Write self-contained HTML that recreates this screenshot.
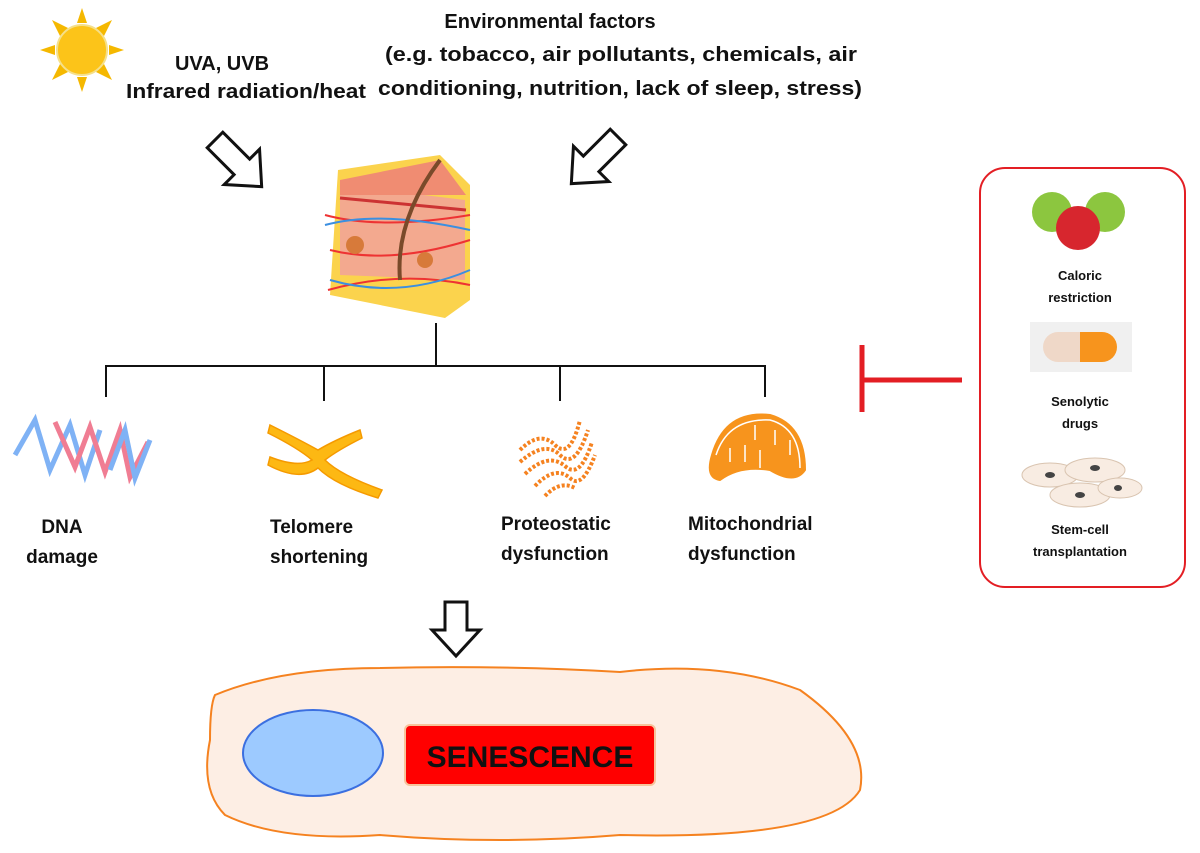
<!DOCTYPE html>
<html><head><style>body{margin:0;background:#fff}svg{display:block}text{font-family:"Liberation Sans",sans-serif;font-weight:bold;fill:#111}</style></head><body>
<svg width="1200" height="853" viewBox="0 0 1200 853" xmlns="http://www.w3.org/2000/svg">
<!-- sun -->
<g transform="translate(82,50)">
<g fill="#f5b800">
<polygon points="0,-42 5,-27 -5,-27"/><polygon points="0,42 5,27 -5,27"/><polygon points="-42,0 -27,5 -27,-5"/><polygon points="42,0 27,5 27,-5"/>
<polygon points="30,-30 22,-14 14,-22"/><polygon points="-30,-30 -22,-14 -14,-22"/><polygon points="30,30 22,14 14,22"/><polygon points="-30,30 -22,14 -14,22"/>
</g>
<circle r="25" fill="#fcc419" stroke="#f5e08a" stroke-width="2"/>
</g>
<text x="222" y="70" font-size="20" text-anchor="middle">UVA, UVB</text>
<text x="246" y="98" font-size="20" text-anchor="middle" textLength="240" lengthAdjust="spacingAndGlyphs">Infrared radiation/heat</text>
<text x="550" y="28" font-size="20" text-anchor="middle">Environmental factors</text>
<text x="621" y="61" font-size="20" text-anchor="middle" textLength="472" lengthAdjust="spacingAndGlyphs">(e.g. tobacco, air pollutants, chemicals, air</text>
<text x="620" y="95" font-size="20" text-anchor="middle" textLength="484" lengthAdjust="spacingAndGlyphs">conditioning, nutrition, lack of sleep, stress)</text>
<!-- arrows -->
<g fill="#fff" stroke="#111" stroke-width="3" stroke-linejoin="miter">
<polygon points="0,-11 38,-11 38,-25 66,0 38,25 38,11 0,11" transform="translate(215,140) rotate(45)"/>
<polygon points="0,-11 38,-11 38,-25 66,0 38,25 38,11 0,11" transform="translate(618,137) rotate(135)"/>
<polygon points="0,-11 28,-11 28,-24 54,0 28,24 28,11 0,11" transform="translate(456,602) rotate(90)"/>
</g>
<!-- skin -->
<g>
<polygon points="338,170 440,155 470,185 470,300 445,318 330,295" fill="#fbd34d"/>
<polygon points="340,185 465,200 465,280 340,275" fill="#f3a98f"/>
<polygon points="340,180 440,160 466,195 340,195" fill="#f08c72"/>
<line x1="340" y1="198" x2="466" y2="210" stroke="#cc3333" stroke-width="3"/>
<path d="M325 215 Q380 230 470 215 M328 290 Q400 270 470 285 M330 250 Q390 265 470 240" stroke="#e33" stroke-width="2" fill="none"/>
<path d="M325 225 Q380 210 470 230 M330 280 Q400 300 470 270" stroke="#3b8fe0" stroke-width="2" fill="none"/>
<path d="M400 280 Q395 220 440 160" stroke="#7a4a2a" stroke-width="4" fill="none"/>
<circle cx="355" cy="245" r="9" fill="#d77a3a"/><circle cx="425" cy="260" r="8" fill="#d77a3a"/>
</g>
<!-- tree -->
<g stroke="#111" stroke-width="2" fill="none">
<line x1="436" y1="323" x2="436" y2="366"/>
<line x1="105" y1="366" x2="766" y2="366"/>
<line x1="106" y1="366" x2="106" y2="397"/><line x1="324" y1="366" x2="324" y2="401"/><line x1="560" y1="366" x2="560" y2="401"/><line x1="765" y1="366" x2="765" y2="397"/>
</g>
<!-- DNA -->
<g fill="none" stroke-width="5">
<path d="M15 455 L35 420 L50 470 L70 425 L85 475 L100 430" stroke="#7fb2f5"/>
<path d="M25 420 L45 465 L60 425 L75 470 L90 428 L100 475 L118 440" stroke="#f07d93" transform="translate(30,2)"/>
<path d="M80 470 L95 430 L105 478 L120 440" stroke="#7fb2f5" transform="translate(30,0)"/>
</g>
<!-- telomere -->
<g fill="#fdb813" stroke="#f59a00" stroke-width="1.5">
<path d="M270 425 Q300 440 318 450 Q335 440 360 430 L362 438 Q338 450 325 460 Q340 475 382 490 L378 498 Q335 485 318 468 Q300 482 268 465 L270 457 Q298 468 312 460 Q298 448 268 433Z"/>
</g>
<!-- proteostatic -->
<g fill="none" stroke="#f58220" stroke-width="4" stroke-dasharray="3 2">
<path d="M520 450 Q540 430 555 445 Q570 460 580 420"/>
<path d="M520 462 Q545 440 560 455 Q575 470 588 430"/>
<path d="M525 474 Q548 452 565 466 Q580 480 592 442"/>
<path d="M535 486 Q555 465 570 478 Q582 490 595 455"/>
<path d="M545 496 Q560 480 575 488"/>
</g>
<!-- mito -->
<path d="M712 455 Q725 410 770 415 Q805 425 805 470 Q795 485 770 470 Q740 465 720 480 Q705 478 712 455Z" fill="#f7941d" stroke="#f7941d" stroke-width="2"/>
<path d="M716 455 Q728 418 770 420 Q800 428 800 468" fill="none" stroke="#fff" stroke-width="1.5"/>
<g stroke="#fff" stroke-width="1.5"><line x1="730" y1="462" x2="730" y2="448"/><line x1="745" y1="462" x2="745" y2="445"/><line x1="760" y1="468" x2="760" y2="450"/><line x1="775" y1="430" x2="775" y2="445"/><line x1="755" y1="425" x2="755" y2="440"/><line x1="790" y1="440" x2="790" y2="455"/></g>
<!-- labels -->
<g font-size="19">
<text x="62" y="533" text-anchor="middle">DNA</text>
<text x="62" y="563" text-anchor="middle">damage</text>
<text x="270" y="533">Telomere</text>
<text x="270" y="563">shortening</text>
<text x="501" y="530">Proteostatic</text>
<text x="501" y="560">dysfunction</text>
<text x="688" y="530">Mitochondrial</text>
<text x="688" y="560">dysfunction</text>
</g>
<!-- inhibitor -->
<g stroke="#e31e24" stroke-width="5"><line x1="862" y1="380" x2="962" y2="380"/><line x1="862" y1="345" x2="862" y2="412"/></g>
<rect x="980" y="168" width="205" height="419" rx="25" fill="#fff" stroke="#e31e24" stroke-width="2"/>
<circle cx="1052" cy="212" r="20" fill="#8cc63f"/><circle cx="1105" cy="212" r="20" fill="#8cc63f"/><circle cx="1078" cy="228" r="22" fill="#d7262e"/>
<g font-size="13" text-anchor="middle"><text x="1080" y="280">Caloric</text><text x="1080" y="302">restriction</text>
<text x="1080" y="406">Senolytic</text><text x="1080" y="428">drugs</text>
<text x="1080" y="534">Stem-cell</text><text x="1080" y="556">transplantation</text></g>
<rect x="1030" y="322" width="102" height="50" fill="#f0f0f0"/>
<path d="M1058 332 L1080 332 L1080 362 L1058 362 A15 15 0 0 1 1058 332Z" fill="#efd8c8"/>
<path d="M1080 332 L1102 332 A15 15 0 0 1 1102 362 L1080 362Z" fill="#f7941d"/>
<g fill="#f8ece2" stroke="#d9c4b0"><ellipse cx="1050" cy="475" rx="28" ry="12"/><ellipse cx="1095" cy="470" rx="30" ry="12"/><ellipse cx="1080" cy="495" rx="30" ry="12"/><ellipse cx="1120" cy="488" rx="22" ry="10"/></g>
<g fill="#444"><ellipse cx="1050" cy="475" rx="5" ry="3"/><ellipse cx="1095" cy="468" rx="5" ry="3"/><ellipse cx="1080" cy="495" rx="5" ry="3"/><ellipse cx="1118" cy="488" rx="4" ry="3"/></g>
<!-- cell -->
<path d="M215 695 Q280 668 380 668 Q500 665 620 672 Q720 660 800 690 Q870 740 860 790 Q830 840 620 835 Q500 845 380 835 Q280 842 225 815 Q200 790 210 740 Q210 705 215 695Z" fill="#fdeee4" stroke="#f58220" stroke-width="2"/>
<ellipse cx="313" cy="753" rx="70" ry="43" fill="#9dcaff" stroke="#3b6fe0" stroke-width="2"/>
<rect x="405" y="725" width="250" height="60" rx="5" fill="#ff0000" stroke="#f7c39b" stroke-width="2"/>
<text x="530" y="767" font-size="30" text-anchor="middle">SENESCENCE</text>
</svg>
</body></html>
